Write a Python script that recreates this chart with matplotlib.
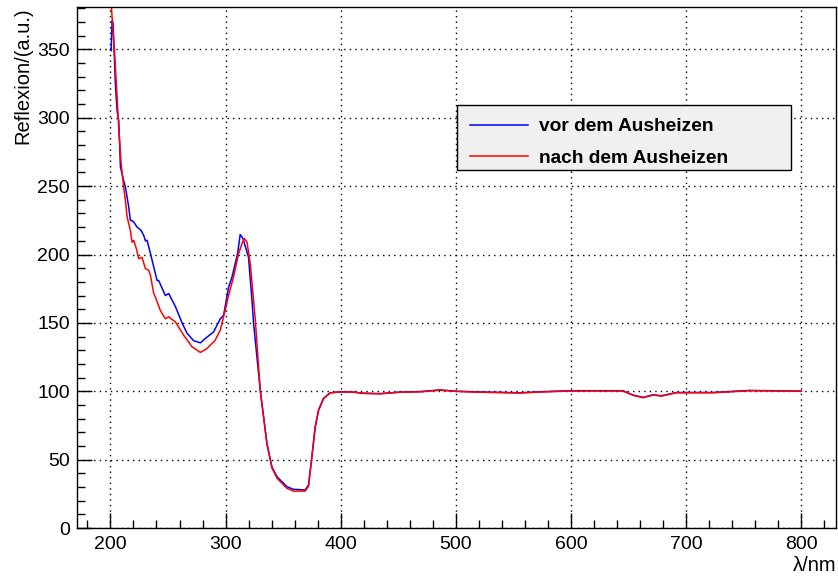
#!/usr/bin/env python3
# -*- coding: utf-8 -*-

import matplotlib
matplotlib.use("Agg")
import matplotlib.pyplot as plt
from matplotlib.patches import Rectangle
from matplotlib.ticker import MultipleLocator

plt.rcParams['font.family'] = ['Liberation Sans', 'DejaVu Sans']

# values
WL_VOR = [200, 200.6, 201.5, 202.3, 204.3, 205.8, 207.2, 208.7, 211.5, 213,
          215.9, 217.3, 218.2, 220.2, 223.2, 226.6, 228.9, 230.4, 231.8, 234.7,
          240.5, 241.9, 247.7, 250.6, 256.4, 262.2, 266.5, 272.2, 278.1, 282.4,
          289.6, 295.4, 298.3, 302.6, 305.6, 310.4, 312.7, 315.1, 319.9, 322.9,
          324.3, 330.1, 333, 335.9, 340.2, 344.6, 353.3, 359, 369.1, 372,
          374.9, 377.8, 380.7, 385, 390.8, 399.5, 410, 419.7, 434.2, 451.5,
          470, 486, 500.7, 520, 555.6, 575, 600.4, 645, 653.9, 662.5,
          671.2, 678.5, 691.5, 723.2, 755, 800]
R_VOR = [350, 349, 371, 369, 325, 305, 298, 264, 254, 249.4,
         234.8, 225, 225, 223.8, 220, 217.7, 214, 210, 210.4, 201,
         181, 181, 170, 171.5, 162, 150, 142.5, 137, 135.4, 138.6,
         143.4, 153, 155.6, 176, 183.6, 200.7, 214.6, 211.7, 198, 166.6,
         149.6, 100.8, 81.3, 61.9, 44.8, 37.5, 30.2, 28.3, 27.8, 31.4,
         52.1, 74, 86.2, 94.8, 98.9, 99.6, 99.5, 98.6, 98.3, 99.4,
         99.8, 101, 100, 99.5, 98.9, 99.7, 100.4, 100.4, 97.2, 95.5,
         97.4, 96.7, 99.1, 99.1, 100.6, 100.1]

WL_NACH = [200.9, 203.5, 205.8, 207.2, 209.3, 211.5, 213, 214.5, 217.3, 218.8,
           220.2, 222.5, 224.5, 227.5, 230.4, 233.2, 234.7, 237.6, 239, 243.4,
           247.7, 250.6, 256.4, 263.6, 270.9, 278.1, 283.9, 291, 295.4, 299.7,
           302.6, 306.9, 311.3, 314.2, 316.2, 318.6, 321.4, 325.8, 330.1, 333,
           335.9, 340.2, 344.6, 353.3, 359, 369.1, 372, 374.9, 377.8, 380.7,
           385, 390.8, 399.5, 410, 419.7, 434.2, 451.5, 470, 486, 500.7,
           520, 555.6, 575, 600.4, 645, 653.9, 662.5, 671.2, 678.5, 691.5,
           723.2, 755, 800]
R_NACH = [380, 349, 315, 293, 266.5, 249.4, 239.7, 227.5, 217.7, 209,
          210.4, 204.4, 197, 197.8, 189.7, 188.5, 185, 171.5, 169, 159,
          153, 154.4, 150.7, 141, 132.5, 128.4, 131.3, 137.4, 144.7, 159.3,
          170.2, 183.6, 200.7, 208, 211.7, 209, 193.4, 152, 100.5, 81,
          61.5, 44, 36.5, 29, 27, 27, 30.5, 51.5, 73.5, 86,
          94.5, 98.8, 99.5, 99.4, 98.4, 98.1, 99.3, 99.6, 100.8, 99.9,
          99.3, 98.7, 99.5, 100.2, 100.2, 97, 95.3, 97.2, 96.5, 98.9,
          98.9, 100.4, 100]

LABEL_VOR = "vor dem Ausheizen"
LABEL_NACH = "nach dem Ausheizen"

fig = plt.figure(figsize=(8.38, 5.77), dpi=100)
ax = fig.add_axes([0.0919, 0.0849, 0.9057, 0.903])

ax.plot(WL_VOR, R_VOR, color='#0000ff', lw=1.1, label=LABEL_VOR)
ax.plot(WL_NACH, R_NACH, color='#ff0000', lw=1.1, label=LABEL_NACH)

ax.set_xlim(171, 830)
ax.set_ylim(0, 381)

ax.xaxis.set_major_locator(MultipleLocator(100))
ax.xaxis.set_minor_locator(MultipleLocator(20))
ax.yaxis.set_major_locator(MultipleLocator(50))
ax.yaxis.set_minor_locator(MultipleLocator(10))

ax.tick_params(which='both', direction='in', top=False, right=False,
               labelsize=14, width=1, color='black')
ax.tick_params(which='major', length=11)
ax.tick_params(which='minor', length=5.5)
ax.tick_params(axis='x', pad=6)
ax.tick_params(axis='y', pad=5)

ax.grid(True, which='major', color='black', linestyle=(0, (1, 3)), lw=1)

for s in ax.spines.values():
    s.set_linewidth(1)

ax.set_ylabel("Reflexion/(a.u.)", fontsize=14.5, loc='top', labelpad=4)
ax.set_xlabel("λ/nm", fontsize=14.5, loc='right', labelpad=2)

# legend box drawn separately (ROOT style), entries placed inside it
ax.add_patch(Rectangle((0.5007, 0.687), 0.44, 0.125, transform=ax.transAxes,
                       facecolor='#f0f0f0', edgecolor='black', lw=1, zorder=4))
leg = ax.legend(loc='upper left', bbox_to_anchor=(0.5178, 0.787),
                frameon=False, handlelength=3.0, borderaxespad=0,
                borderpad=0, labelspacing=0.72, handletextpad=0.6,
                prop={'weight': 'bold', 'size': 13.8})
leg.set_zorder(5)

fig.savefig("out.png", dpi=100)
